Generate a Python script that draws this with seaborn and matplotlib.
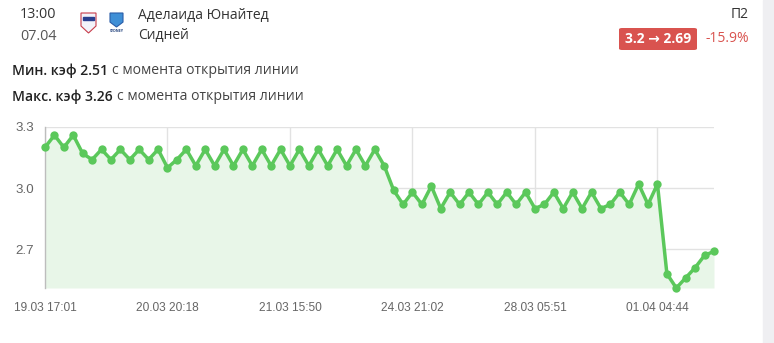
import numpy as np
import pandas as pd
import matplotlib
matplotlib.use("Agg")
import matplotlib.pyplot as plt
import seaborn as sns
from matplotlib.patches import FancyBboxPatch, Rectangle, Polygon

# ---------------- data ----------------
odds = [3.20, 3.26, 3.20, 3.26, 3.17, 3.14, 3.19, 3.14, 3.19, 3.14,
        3.19, 3.14, 3.19, 3.10, 3.14, 3.19, 3.11, 3.19, 3.11, 3.19,
        3.11, 3.19, 3.11, 3.19, 3.11, 3.19, 3.11, 3.19, 3.11, 3.19,
        3.11, 3.19, 3.11, 3.19, 3.11, 3.19, 3.11, 2.99, 2.92, 2.98,
        2.92, 3.01, 2.90, 2.98, 2.92, 2.98, 2.92, 2.98, 2.92, 2.98,
        2.92, 2.98, 2.90, 2.92, 2.98, 2.90, 2.98, 2.90, 2.98, 2.90,
        2.92, 2.98, 2.92, 3.02, 2.92, 3.02, 2.58, 2.51, 2.56, 2.61,
        2.67, 2.69]
tick_positions = [0, 13, 26, 39, 52, 65]
tick_labels = ["19.03 17:01", "20.03 20:18", "21.03 15:50",
               "24.03 21:02", "28.03 05:51", "01.04 04:44"]
y_ticks = [2.7, 3.0, 3.3]
y_tick_labels = ["2.7", "3.0", "3.3"]

match_time = "13:00"
match_date = "07.04"
home_team = "Аделаида Юнайтед"
away_team = "Сидней"
market = "П2"
change_text = "3.2 \u2192 2.69"
change_pct = "-15.9%"
min_text = ("Мин. кэф 2.51", "с момента открытия линии")
max_text = ("Макс. кэф 3.26", "с момента открытия линии")

df = pd.DataFrame({"i": np.arange(len(odds)), "odds": odds})

# ---------------- figure ----------------
sns.set_style("white")
plt.rcParams["font.family"] = ["Open Sans", "DejaVu Sans"]

W, H = 774, 343
fig = plt.figure(figsize=(W / 100, H / 100), dpi=100)

def fx(px):
    return px / W

def fy(py):
    return 1 - py / H

# grey strip at right edge
fig.patches.append(Rectangle((fx(763), 0), fx(W - 763), 1, transform=fig.transFigure,
                             color="#efeff2", zorder=0))

ax = fig.add_axes([fx(45), fy(288), fx(714 - 45), (288 - 127) / H])

GREEN = "#5bc85b"
ax.fill_between(df["i"], df["odds"], 2.51, color="#e8f6e8", zorder=1, linewidth=0)
sns.lineplot(data=df, x="i", y="odds", ax=ax, color=GREEN, linewidth=2.5,
             marker="o", markersize=6, markeredgewidth=0, zorder=3,
             solid_joinstyle="round", clip_on=False)

ax.set_xlim(0, len(odds) - 1)
ax.set_ylim(2.51, 3.3)
ax.set_xticks(tick_positions)
ax.set_xticklabels(tick_labels)
ax.set_yticks(y_ticks)
ax.set_yticklabels(y_tick_labels)
ax.set_xlabel("")
ax.set_ylabel("")

ax.grid(True, color="#e2e2e2", linewidth=1)
ax.set_axisbelow(True)
for s in ["top", "right", "bottom"]:
    ax.spines[s].set_visible(False)
ax.spines["left"].set_color("#bdbdbd")
ax.spines["left"].set_linewidth(1)
ax.tick_params(axis="x", length=7, color="#e2e2e2", width=1,
               labelsize=8.6, labelcolor="#666666", pad=3)
ax.tick_params(axis="y", length=7, color="#e2e2e2", width=1,
               labelsize=9.6, labelcolor="#666666", pad=1)
for lab in ax.get_xticklabels() + ax.get_yticklabels():
    lab.set_fontfamily(["Liberation Sans", "DejaVu Sans"])

# ---------------- header ----------------
fig.text(fx(20), fy(15), match_time, fontsize=10.4, color="#333333", va="center", ha="left")
fig.text(fx(20), fy(36), match_date, fontsize=10.4, color="#555555", va="center", ha="left")
fig.text(fx(138), fy(15), home_team, fontsize=10, color="#333333", va="center", ha="left")
fig.text(fx(138), fy(36), away_team, fontsize=10, color="#333333", va="center", ha="left")
fig.text(fx(749), fy(15), market, fontsize=10, color="#333333", va="center", ha="right")

# simple logo shapes
def shield(x0, y0, w, h, face, edge):
    pts = [(x0, y0), (x0 + w, y0), (x0 + w, y0 + h * 0.65), (x0 + w / 2, y0 + h),
           (x0, y0 + h * 0.65)]
    pts = [(fx(px), fy(py)) for px, py in pts]
    fig.patches.append(Polygon(pts, closed=True, transform=fig.transFigure,
                               facecolor=face, edgecolor=edge, linewidth=0.8, zorder=2))

shield(81, 13, 15, 20, "#f3f3fa", "#c83c4a")
fig.patches.append(Rectangle((fx(83), fy(20)), fx(11), 3 / H, transform=fig.transFigure,
                             color="#2a3f8f", zorder=3))
shield(110, 13, 13, 14, "#3f8fd6", "#2a5da8")
fig.text(fx(116.5), fy(31), "SYDNEY", fontsize=2.5, color="#1f3f7a", ha="center",
         va="center", fontweight="bold")

# badge
badge = FancyBboxPatch((fx(619), fy(50)), fx(697 - 619), (50 - 28) / H,
                       boxstyle="round,pad=0,rounding_size=0.004",
                       transform=fig.transFigure, facecolor="#d9534f",
                       edgecolor="none", zorder=2)
fig.patches.append(badge)
fig.text(fx(658), fy(39), change_text, fontsize=10, color="white", fontweight="bold",
         ha="center", va="center", zorder=3,
         family=["Open Sans", "DejaVu Sans"])
fig.text(fx(749), fy(39), change_pct, fontsize=10, color="#d9534f", ha="right", va="center")

# min / max lines
fig.canvas.draw()
renderer = fig.canvas.get_renderer()
for (bold, rest), py in [(min_text, 71), (max_text, 97)]:
    t = fig.text(fx(12), fy(py), bold, fontsize=10.1, color="#222222", fontweight="semibold",
                 ha="left", va="center")
    bb = t.get_window_extent(renderer=renderer)
    fig.text(fx(bb.x1 + 4), fy(py), rest, fontsize=10.1, color="#444444",
             ha="left", va="center")

fig.savefig("out.png", dpi=100)
